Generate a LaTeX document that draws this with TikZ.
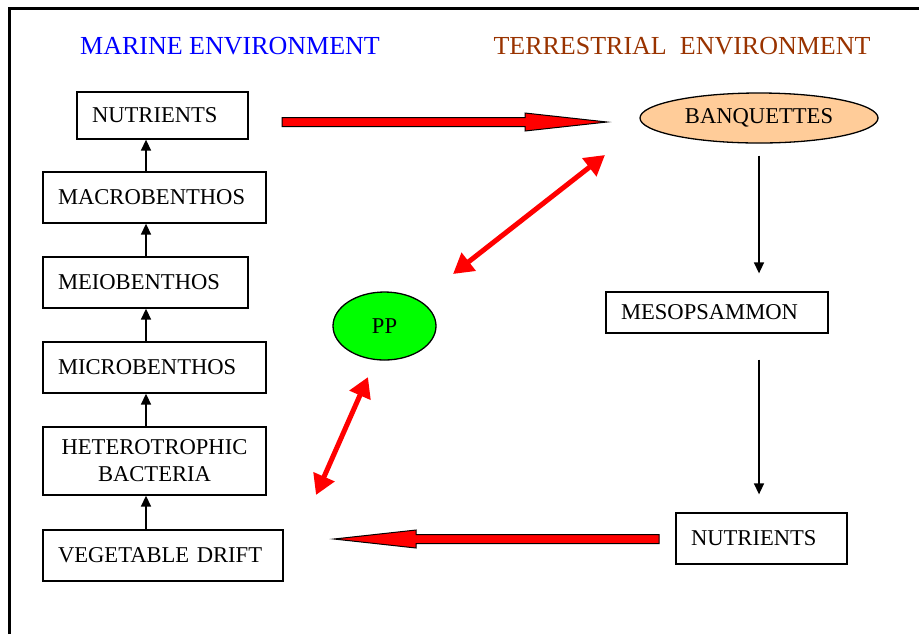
\documentclass[tikz,border=0pt]{standalone}
\usepackage{fontspec}
\setmainfont{Liberation Serif}
\usetikzlibrary{arrows.meta,shapes.geometric}
\definecolor{marineblue}{rgb}{0, 0, 1}
\definecolor{terrabrown}{rgb}{0.6, 0.2, 0}
\definecolor{banqpeach}{rgb}{1, 0.8, 0.6}
\definecolor{ppgreen}{rgb}{0, 1, 0}
\tikzset{box/.style={draw, rectangle, line width=0.65pt, inner xsep=7.5pt, inner ysep=0pt, align=left, font=\fontsize{11.3}{13.5}\selectfont}}
\tikzset{blob/.style={draw, ellipse, line width=0.65pt, inner sep=0pt, font=\fontsize{11.3}{13.5}\selectfont}}
\tikzset{title/.style={font=\fontsize{13}{15}\selectfont}}
\tikzset{flow/.style={line width=0.75pt, -{Triangle[length=5.5pt, width=5pt]}}}
\tikzset{redlink/.style={line width=2.5pt, color=red, {Triangle[length=10pt, width=11pt]}-{Triangle[length=10pt, width=11pt]}}}
\tikzset{redblock/.style={fill=red, draw=black, line width=0.5pt, line join=miter}}

\begin{document}
\begin{tikzpicture}[x=0.5pt, y=-0.5pt]%{{{
        \useasboundingbox (0, 0) rectangle (919, 634);
        \draw [line width=1.5pt] (9.5, 634) -- (9.5, 8) -- (919, 8);

        \node[title, text=marineblue] (TMar) at (230, 46) {MARINE ENVIRONMENT};
        \node[title, text=terrabrown] (TTer) at (682, 46) {TERRESTRIAL\ \ ENVIRONMENT};

        \node[box, text width=70.5pt, minimum height=23.5pt] (NutM) at (162.5, 115.5) {NUTRIENTS};
        \node[box, text width=96.5pt, minimum height=25.5pt] (Macro) at (154.5, 197.5) {MACROBENTHOS};
        \node[box, text width=87.5pt, minimum height=25.5pt] (Meio) at (145.5, 282.5) {MEIOBENTHOS};
        \node[box, text width=96.5pt, minimum height=25.5pt] (Micro) at (154.5, 367.5) {MICROBENTHOS};
        \node[box, text width=96.5pt, minimum height=34pt, align=center] (Bact) at (154.5, 461) {HETEROTROPHIC\\BACTERIA};
        \node[box, text width=105pt, minimum height=25.5pt] (Drift) at (163, 555.5) {VEGETABLE DRIFT};

        \node[blob, fill=banqpeach, minimum width=119pt, minimum height=25pt] (Banq) at (759, 118) {BANQUETTES};
        \node[box, text width=96pt, minimum height=20.5pt] (Meso) at (717, 312.5) {MESOPSAMMON};
        \node[box, text width=70.5pt, minimum height=25.5pt] (NutT) at (761.5, 538.5) {NUTRIENTS};
        \node[blob, fill=ppgreen, minimum width=51.5pt, minimum height=34pt] (PP) at (384.5, 326) {PP};

        \coordinate (colx) at (146, 0);
        \draw [flow] (Drift.north -| colx) -- (Bact.south -| colx);
        \draw [flow] (Bact.north -| colx) -- (Micro.south -| colx);
        \draw [flow] (Micro.north -| colx) -- (Meio.south -| colx);
        \draw [flow] (Meio.north -| colx) -- (Macro.south -| colx);
        \draw [flow] (Macro.north -| colx) -- (NutM.south -| colx);

        \draw [flow, shorten <=6pt, shorten >=9pt] (Banq.south) -- (Banq.south |- Meso.north);
        \draw [flow, shorten <=13pt, shorten >=9pt] (Banq.south |- Meso.south) -- (Banq.south |- NutT.north);

        \coordinate (BlkA) at (282, 122);
        \coordinate (BlkB) at (607, 122);
        \coordinate (BlkC) at (659, 539);
        \coordinate (BlkD) at (334, 539);
        \filldraw [redblock] (BlkA) ++(0, -4.5) -- ++(243, 0) -- ++(0, -4.5) -- (BlkB)
            -- ++(-82, 9) -- ++(0, -4.5) -- ++(-243, 0) -- cycle;
        \filldraw [redblock] (BlkC) ++(0, -4.5) -- ++(-243, 0) -- ++(0, -4.5) -- (BlkD)
            -- ++(82, 9) -- ++(0, -4.5) -- ++(243, 0) -- cycle;

        \coordinate (LnkA) at (605, 155);
        \coordinate (LnkB) at (453, 274);
        \coordinate (LnkC) at (368, 377);
        \coordinate (LnkD) at (316, 495);
        \draw [redlink] (LnkB) -- (LnkA);
        \draw [redlink] (LnkD) -- (LnkC);
    \end{tikzpicture}
\end{document}
